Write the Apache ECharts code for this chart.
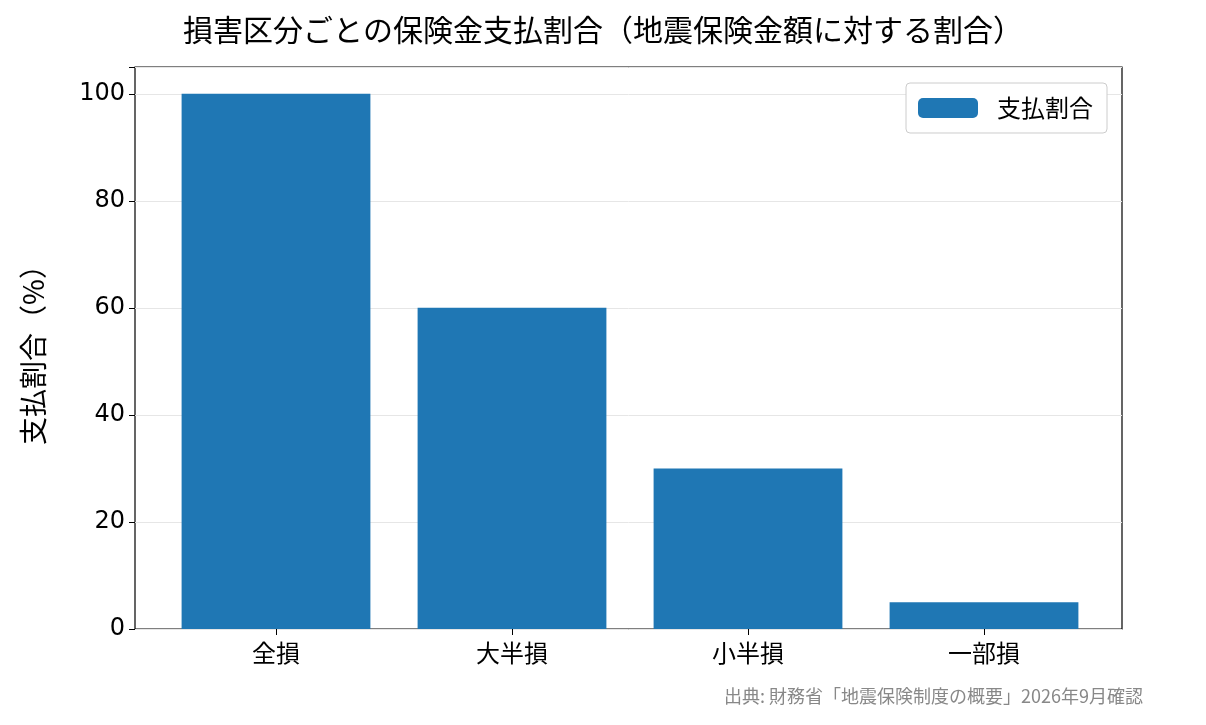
<!DOCTYPE html><html><head><meta charset="utf-8"><script src="https://cdn.jsdelivr.net/npm/echarts@6/dist/echarts.min.js"></script>
<style>body{margin:0}#c{width:1206px;height:725px}</style></head><body><div id="c"></div><script>
const categories=['全損','大半損','小半損','一部損'];
const values=[100,60,30,5];
const F='"Noto Sans CJK JP"';
const c=echarts.init(document.getElementById('c'));
c.setOption({
 animation:false,
 title:[{text:'損害区分ごとの保険金支払割合（地震保険金額に対する割合）',left:'center',top:10,textStyle:{fontFamily:F,fontSize:30,fontWeight:'normal',color:'#000'}},
  {text:'出典: 財務省「地震保険制度の概要」2026年9月確認',right:58,top:682,textStyle:{fontFamily:F,fontSize:18,fontWeight:'normal',color:'#888'}}],
 grid:[{left:135,width:987,top:67,bottom:96,show:true,borderColor:'#000',borderWidth:1.2},
       {left:158,width:944,top:67,bottom:96}],
 legend:{right:99,top:83,itemWidth:60,itemHeight:20,itemGap:10,padding:[13,14,13,12],borderColor:'#ccc',borderWidth:1,borderRadius:4,backgroundColor:'#fff',textStyle:{fontFamily:F,fontSize:24,color:'#000',padding:[0,0,0,14]},data:['支払割合']},
 xAxis:[{gridIndex:0,type:'value',show:false,min:0,max:1},
  {gridIndex:1,type:'category',data:categories,axisLine:{show:false},axisTick:{show:true,alignWithLabel:true,length:6,lineStyle:{color:'#000'}},axisLabel:{fontFamily:F,fontSize:24,color:'#000',margin:12}}],
 yAxis:[{gridIndex:0,type:'value',min:0,max:105,interval:20,name:'支払割合（%）',nameLocation:'middle',nameGap:88,nameRotate:90,nameTextStyle:{fontFamily:F,fontSize:28,color:'#000'},
   axisLine:{show:false},axisTick:{show:true,length:6,lineStyle:{color:'#000'}},axisLabel:{fontFamily:'DejaVu Sans',fontSize:24,color:'#000',margin:10,formatter:v=>v%20===0?v:''},splitLine:{show:true,lineStyle:{color:'#e6e6e6'}}},
  {gridIndex:1,type:'value',min:0,max:105,interval:20,show:false,splitLine:{show:false}}],
 series:[{name:'支払割合',type:'bar',xAxisIndex:1,yAxisIndex:1,data:values,barWidth:'80%',itemStyle:{color:'#1f77b4'}}]
});
</script></body></html>
